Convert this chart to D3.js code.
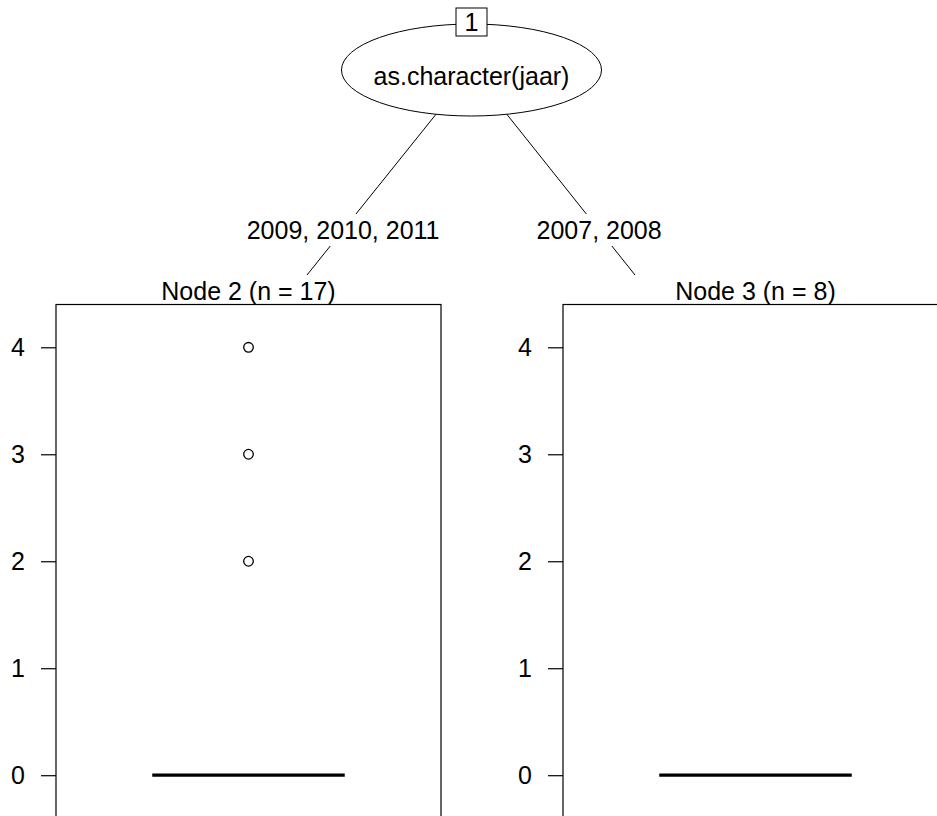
<!DOCTYPE html>
<html>
<head>
<meta charset="utf-8">
<script src="https://cdn.jsdelivr.net/npm/d3@7"></script>
<style>
  body { margin: 0; background: #fff; }
  svg text { font-family: "Liberation Sans", Arial, Helvetica, sans-serif; fill: #000; }
</style>
</head>
<body>
<svg id="chart"></svg>
<script>
// tree data
const rootId = 1;
const rootLabel = "as.character(jaar)";
const nodeIds = [2, 3];
const nodeN = [17, 8];
const edgeLabels = ["2009, 2010, 2011", "2007, 2008"];

// boxplot stats per terminal node: [lowerWhisker, q1, median, q3, upperWhisker]
const boxStats = [[0, 0, 0, 0, 0], [0, 0, 0, 0, 0]];
const outliers = [[2, 3, 4], []];

const yTicks = [0, 1, 2, 3, 4];
const yDomain = [-0.4, 4.4];

const config = {
    width: 937,
    height: 816,
    fontSize: 25,
    root: {cx: 471.5, cy: 70, rx: 130, ry: 46},
    childTopY: 275,
    labelY: 230,
    panelTop: 304.5,
    panelBottom: 818,
    panelLeft: [56, 563],
    panelWidth: 385
};

const svg = d3.select('#chart')
    .attr('width', config.width)
    .attr('height', config.height);

// x position where each edge meets its child
const childX = d3.scaleLinear()
    .domain([0, 1])
    .range([307, 635]);

const yScale = d3.scaleLinear()
    .domain(yDomain)
    .range([config.panelBottom, config.panelTop]);

// edges from root center to child
const edges = svg.append('g');
nodeIds.forEach((id, i) => {
    edges.append('line')
        .attr('x1', config.root.cx)
        .attr('y1', config.root.cy)
        .attr('x2', childX(i))
        .attr('y2', config.childTopY)
        .attr('stroke', '#000')
        .attr('stroke-width', 1);
});

// edge labels with white background
nodeIds.forEach((id, i) => {
    let t = (config.labelY - config.root.cy) / (config.childTopY - config.root.cy);
    let lx = config.root.cx + t * (childX(i) - config.root.cx);
    let g = edges.append('g');
    let txt = g.append('text')
        .attr('x', lx)
        .attr('y', config.labelY)
        .attr('dy', '0.35em')
        .attr('text-anchor', 'middle')
        .style('font-size', config.fontSize + 'px')
        .text(edgeLabels[i]);
    let bb = txt.node().getBBox();
    g.insert('rect', 'text')
        .attr('x', bb.x - 2)
        .attr('y', config.labelY - 16)
        .attr('width', bb.width + 4)
        .attr('height', 32)
        .attr('fill', '#fff');
});

// root node ellipse
svg.append('ellipse')
    .attr('cx', config.root.cx)
    .attr('cy', config.root.cy)
    .attr('rx', config.root.rx)
    .attr('ry', config.root.ry)
    .attr('fill', '#fff')
    .attr('stroke', '#000')
    .attr('stroke-width', 1);

svg.append('text')
    .attr('x', config.root.cx)
    .attr('y', 85)
    .attr('text-anchor', 'middle')
    .style('font-size', config.fontSize + 'px')
    .text(rootLabel);

// node id box
svg.append('rect')
    .attr('x', config.root.cx - 15.5)
    .attr('y', 8)
    .attr('width', 31)
    .attr('height', 28)
    .attr('fill', '#fff')
    .attr('stroke', '#000')
    .attr('stroke-width', 1);

svg.append('text')
    .attr('x', config.root.cx)
    .attr('y', 31)
    .attr('text-anchor', 'middle')
    .style('font-size', config.fontSize + 'px')
    .text(rootId);

// terminal panels
nodeIds.forEach((id, i) => {
    let left = config.panelLeft[i];
    let xScale = d3.scaleLinear()
        .domain([0, 1])
        .range([left, left + config.panelWidth]);

    let panel = svg.append('g');

    panel.append('text')
        .attr('x', xScale(0.5))
        .attr('y', 300)
        .attr('text-anchor', 'middle')
        .style('font-size', config.fontSize + 'px')
        .text(`Node ${id} (n = ${nodeN[i]})`);

    panel.append('rect')
        .attr('x', xScale(0))
        .attr('y', yScale(yDomain[1]))
        .attr('width', config.panelWidth)
        .attr('height', yScale(yDomain[0]) - yScale(yDomain[1]))
        .attr('fill', 'none')
        .attr('stroke', '#000')
        .attr('stroke-width', 1.2);

    // y axis
    let yAxis = d3.axisLeft(yScale)
        .tickValues(yTicks)
        .tickFormat(d3.format('d'))
        .tickSize(15)
        .tickPadding(16);
    let yAxisG = panel.append('g')
        .attr('transform', `translate(${left},0)`)
        .call(yAxis);
    yAxisG.select('.domain').remove();
    yAxisG.selectAll('.tick line').attr('stroke', '#000').attr('stroke-width', 1.2);
    yAxisG.selectAll('.tick text')
        .attr('fill', '#000')
        .style('font-size', config.fontSize + 'px')
        .style('font-family', '"Liberation Sans", Arial, Helvetica, sans-serif');

    // boxplot
    let s = boxStats[i];
    panel.append('rect')
        .attr('x', xScale(0.25))
        .attr('y', yScale(s[3]))
        .attr('width', xScale(0.75) - xScale(0.25))
        .attr('height', yScale(s[1]) - yScale(s[3]))
        .attr('fill', 'none')
        .attr('stroke', '#000')
        .attr('stroke-width', 1);

    panel.append('line')
        .attr('x1', xScale(0.25))
        .attr('x2', xScale(0.75))
        .attr('y1', yScale(s[2]))
        .attr('y2', yScale(s[2]))
        .attr('stroke', '#000')
        .attr('stroke-width', 3.2);

    panel.selectAll('circle')
        .data(outliers[i])
        .join('circle')
            .attr('cx', xScale(0.5))
            .attr('cy', d => yScale(d))
            .attr('r', 4.8)
            .attr('fill', 'none')
            .attr('stroke', '#000')
            .attr('stroke-width', 1.3);
});
</script>
</body>
</html>
